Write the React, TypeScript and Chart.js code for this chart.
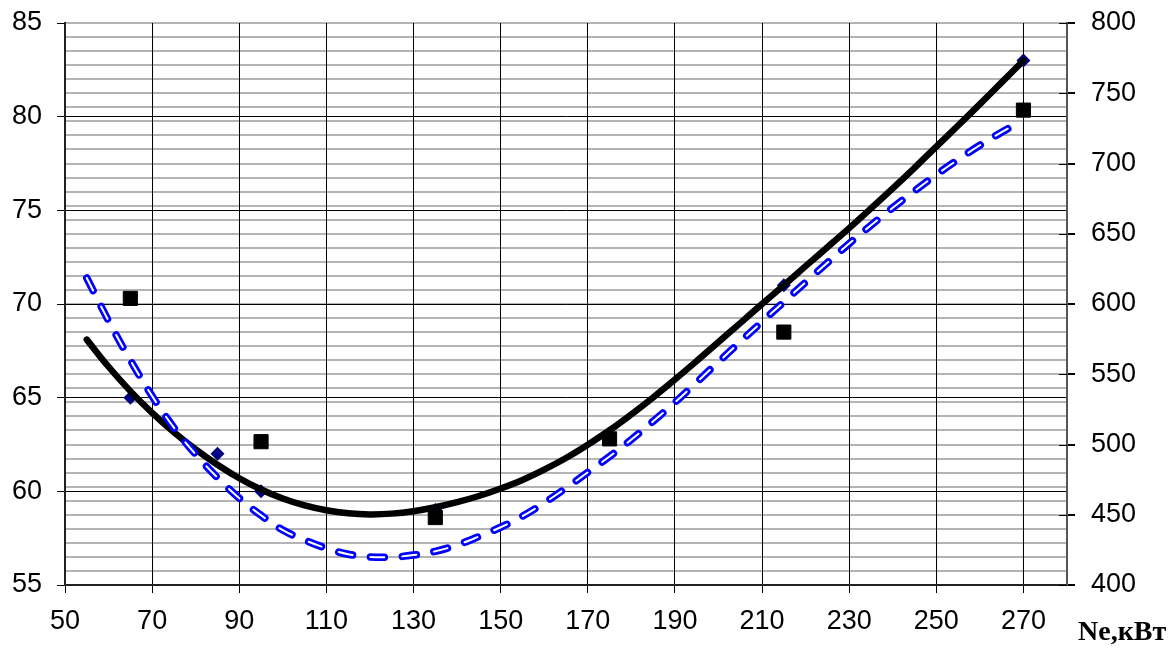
import React, { useEffect, useRef } from "react";
import { Chart, registerables } from "chart.js";

Chart.register(...registerables);

const curveX = [
  55, 60, 65, 70, 75, 80, 85, 90, 95, 100, 105, 110, 115, 120, 125, 130, 135, 140, 145, 150,
  155, 160, 165, 170, 175, 180, 185, 190, 195, 200, 205, 210, 215, 220, 225, 230, 235, 240,
  245, 250, 255, 260, 265, 270,
];
// Solid black trend curve (left axis)
const solidTrendLeft = [
  68.1, 66.65, 65.35, 64.19, 63.16, 62.24, 61.42, 60.7, 60.1, 59.62, 59.25, 58.99, 58.83, 58.77,
  58.81, 58.94, 59.15, 59.42, 59.75, 60.15, 60.61, 61.16, 61.78, 62.49, 63.26, 64.11, 65.01, 65.97,
  66.96, 67.97, 68.98, 70.0, 71.0, 72.02, 73.03, 74.05, 75.1, 76.17, 77.27, 78.4, 79.53, 80.67,
  81.83, 83.0,
];
// Blue double dashed trend curve (right axis)
const dashedTrendRight = [
  618.5, 588, 560, 534.5, 512, 493, 476.4, 461.8, 449.6, 439.1, 432, 426.2, 421.9, 420, 419.9,
  421.3, 424, 428.5, 434.5, 441.1, 449, 458.5, 469, 480.2, 491.5, 503.5, 516.5, 530, 544.3, 558.8,
  573.1, 587.4, 601.5, 615.5, 629.4, 643, 656, 668.5, 680.5, 692, 702.8, 713, 722.3, 730.8,
];
// Black square markers (right axis)
const squareX = [65, 95, 135, 175, 215, 270];
const squareY = [604, 502, 448, 504, 580, 738];
// Navy diamond markers (left axis)
const diamondX = [65, 85, 95, 135, 175, 215, 270];
const diamondY = [65, 62, 60, 59, 63, 71, 83];
// Axis ticks
const xTicks = [50, 70, 90, 110, 130, 150, 170, 190, 210, 230, 250, 270];
const leftTicks = [55, 60, 65, 70, 75, 80, 85];
const rightLabelTicks = [400, 450, 500, 550, 600, 650, 700, 750, 800];
const xAxisTitle = "Ne,кВт";

const pts = (xs: number[], ys: number[]) => xs.map((x, i) => ({ x, y: ys[i] }));

// Right-axis tick marks cross the axis line (short inner part)
const innerTicks = {
  id: "innerTicks",
  afterDatasetsDraw(chart: any) {
    const s = chart.scales.y2;
    if (!s) return;
    const ctx = chart.ctx;
    ctx.save();
    ctx.strokeStyle = "#000000";
    ctx.lineWidth = 1;
    for (const v of rightLabelTicks) {
      const y = Math.round(s.getPixelForValue(v)) + 0.5;
      ctx.beginPath();
      ctx.moveTo(s.left - 8, y);
      ctx.lineTo(s.left, y);
      ctx.stroke();
    }
    ctx.restore();
  },
};

export default function App() {
  const ref = useRef<HTMLCanvasElement>(null);

  useEffect(() => {
    const canvas = ref.current;
    if (!canvas) return;
    const font = { family: "'Liberation Sans', Arial, sans-serif", size: 27 };
    const dash = [14, 18];
    const chart = new Chart(canvas, {
      type: "scatter",
      plugins: [innerTicks],
      data: {
        datasets: [
          {
            label: "trend right core",
            data: pts(curveX, dashedTrendRight),
            yAxisID: "y2",
            showLine: true,
            borderColor: "#ffffff",
            borderWidth: 2,
            borderDash: dash,
            borderCapStyle: "round",
            pointRadius: 0,
            tension: 0.4,
            order: 0,
          },
          {
            label: "trend right",
            data: pts(curveX, dashedTrendRight),
            yAxisID: "y2",
            showLine: true,
            borderColor: "#0000ff",
            borderWidth: 7.5,
            borderDash: dash,
            borderCapStyle: "round",
            pointRadius: 0,
            tension: 0.4,
            order: 1,
          },
          {
            label: "trend left",
            data: pts(curveX, solidTrendLeft),
            yAxisID: "y",
            showLine: true,
            borderColor: "#000000",
            borderWidth: 6.5,
            borderCapStyle: "round",
            pointRadius: 0,
            tension: 0.4,
            order: 2,
          },
          {
            label: "squares",
            data: pts(squareX, squareY),
            yAxisID: "y2",
            showLine: false,
            pointStyle: "rect",
            pointRadius: 10,
            backgroundColor: "#000000",
            borderColor: "#000000",
            borderWidth: 1,
            order: 3,
          },
          {
            label: "diamonds",
            data: pts(diamondX, diamondY),
            yAxisID: "y",
            showLine: false,
            pointStyle: "rectRot",
            pointRadius: 7,
            backgroundColor: "#000080",
            borderColor: "#000080",
            borderWidth: 0,
            order: 4,
          },
        ],
      },
      options: {
        responsive: false,
        animation: false,
        devicePixelRatio: 1,
        layout: { padding: { top: 23, left: 0, right: 0, bottom: 0 } },
        plugins: { legend: { display: false }, tooltip: { enabled: false } },
        scales: {
          x: {
            type: "linear",
            min: 50,
            max: 280,
            afterBuildTicks: (s: any) => {
              s.ticks = xTicks.map((v) => ({ value: v }));
            },
            afterFit: (s: any) => {
              s.height = 63;
              s.paddingLeft = 0;
              s.paddingRight = 0;
            },
            grid: { color: "#000000", lineWidth: 1, tickLength: 8, tickColor: "#000000" },
            border: { color: "#222222", width: 2 },
            ticks: { font, color: "#000000", padding: 12, maxRotation: 0, autoSkip: false },
          },
          y: {
            type: "linear",
            position: "left",
            min: 55,
            max: 85,
            afterBuildTicks: (s: any) => {
              s.ticks = leftTicks.map((v) => ({ value: v }));
            },
            afterFit: (s: any) => {
              s.width = 65;
              s.paddingTop = 0;
              s.paddingBottom = 0;
            },
            grid: {
              color: (ctx: any) =>
                ctx.tick && ctx.tick.value === 85 ? "rgba(0,0,0,0)" : "#000000",
              lineWidth: 1,
              tickLength: 8,
              tickColor: "#000000",
            },
            border: { color: "#222222", width: 2 },
            ticks: { font, color: "#000000", padding: 15, autoSkip: false },
          },
          y2: {
            type: "linear",
            position: "right",
            min: 400,
            max: 800,
            afterFit: (s: any) => {
              s.width = 108;
              s.paddingTop = 0;
              s.paddingBottom = 0;
            },
            grid: {
              z: -2,
              color: "#b4b4b4",
              lineWidth: 2,
              tickLength: 8,
              tickColor: (ctx: any) =>
                ctx.tick && rightLabelTicks.includes(ctx.tick.value) ? "#000000" : "rgba(0,0,0,0)",
            },
            border: { color: "#555555", width: 2 },
            ticks: {
              stepSize: 10,
              autoSkip: false,
              font,
              color: "#000000",
              padding: 16,
              callback: (v: any) => (rightLabelTicks.includes(Number(v)) ? String(v) : ""),
            },
          },
        },
      },
    } as any);
    return () => chart.destroy();
  }, []);

  return (
    <div
      style={{
        position: "fixed",
        left: 0,
        top: 0,
        width: 1175,
        height: 648,
        background: "#ffffff",
        overflow: "hidden",
      }}
    >
      <canvas ref={ref} width={1175} height={648} style={{ display: "block" }} />
      <div
        style={{
          position: "absolute",
          left: 1078,
          top: 614,
          font: "bold 28px 'Liberation Serif', 'Times New Roman', serif",
          color: "#000000",
          whiteSpace: "nowrap",
          lineHeight: "34px",
        }}
      >
        {xAxisTitle}
      </div>
    </div>
  );
}
